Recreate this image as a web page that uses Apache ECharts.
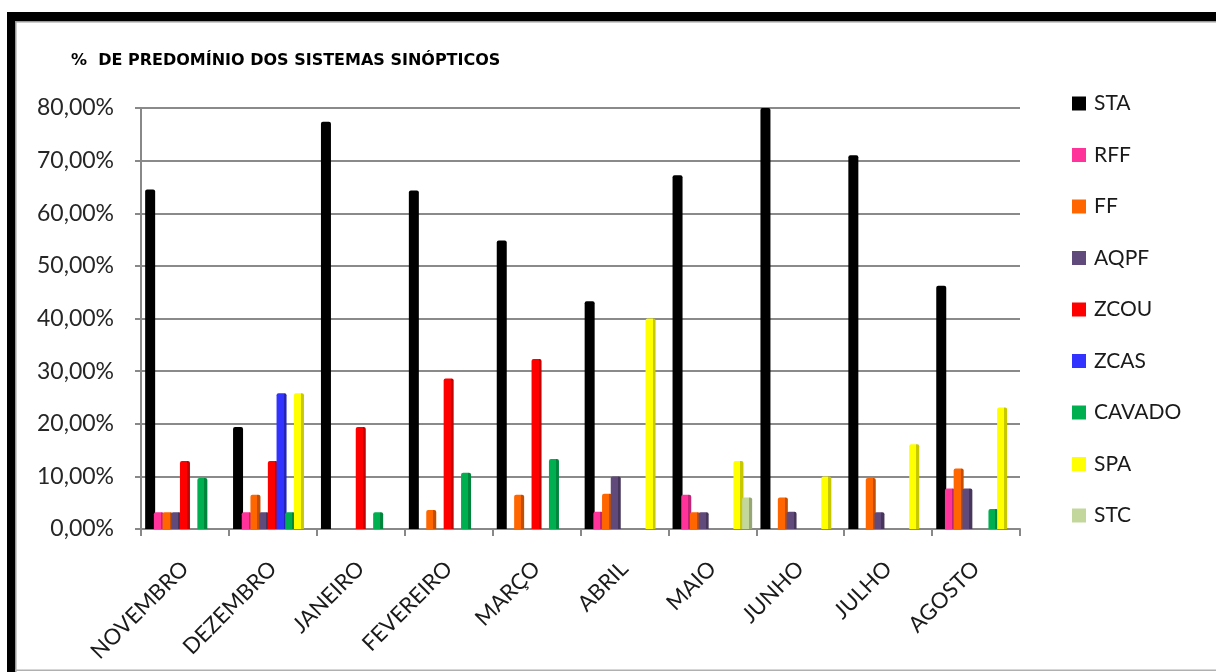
<!DOCTYPE html>
<html>
<head>
<meta charset="utf-8">
<script src="https://cdn.jsdelivr.net/npm/echarts@6/dist/echarts.min.js"></script>
<style>
html,body{margin:0;padding:0;background:#fff;}
#chart{width:1216px;height:672px;}
</style>
</head>
<body>
<div id="chart"></div>
<script>
// Categories (months)
var categories = ['NOVEMBRO','DEZEMBRO','JANEIRO','FEVEREIRO','MARÇO','ABRIL','MAIO','JUNHO','JULHO','AGOSTO'];
// Series values (percent)
var STA    = [64.5, 19.4, 77.4, 64.3, 54.8, 43.3, 67.2, 80.0, 71.0, 46.2];
var RFF    = [3.2, 3.2, 0, 0, 0, 3.3, 6.5, 0, 0, 7.7];
var FF     = [3.2, 6.5, 0, 3.6, 6.5, 6.7, 3.2, 6.0, 9.7, 11.5];
var AQPF   = [3.2, 3.2, 0, 0, 0, 10.0, 3.2, 3.3, 3.2, 7.7];
var ZCOU   = [12.9, 12.9, 19.4, 28.6, 32.3, 0, 0, 0, 0, 0];
var ZCAS   = [0, 25.8, 0, 0, 0, 0, 0, 0, 0, 0];
var CAVADO = [9.7, 3.2, 3.2, 10.7, 13.3, 0, 0, 0, 0, 3.8];
var SPA    = [0, 25.8, 0, 0, 0, 40.0, 12.9, 10.0, 16.1, 23.1];
var STC    = [0, 0, 0, 0, 0, 0, 6.0, 0, 0, 0];
// Y tick labels
var yMin = 0, yMax = 80, yStep = 10;
var titleText = '%  DE PREDOMÍNIO DOS SISTEMAS SINÓPTICOS';

var seriesNames = ['STA','RFF','FF','AQPF','ZCOU','ZCAS','CAVADO','SPA','STC'];
var seriesData = [STA, RFF, FF, AQPF, ZCOU, ZCAS, CAVADO, SPA, STC];
var colors = ['#000000','#FF3399','#FF6600','#604A7B','#FF0000','#3333FF','#00B050','#FFFF00','#C3D69B'];
var darks  = ['#000000','#C2247A','#C24E00','#47365C','#C00000','#2424B8','#00853C','#C8C800','#97A676'];

var FONT = 'Lato';
var chart = echarts.init(document.getElementById('chart'));

var series = seriesNames.map(function(n,i){
  return {
    name: n,
    type: 'bar',
    data: seriesData[i],
    barWidth: 10,
    barGap: '-13%',
    itemStyle: {
      color: new echarts.graphic.LinearGradient(0,0,1,0,[
        {offset:0,color:colors[i]},{offset:0.7,color:colors[i]},
        {offset:0.7,color:darks[i]},{offset:1,color:darks[i]}
      ]),
      borderRadius: [2,2,0,0]
    }
  };
});

var option = {
  backgroundColor: '#ffffff',
  animation: false,
  textStyle: {fontFamily: FONT},
  title: {
    text: titleText,
    left: 66, top: 48,
    textStyle: {fontFamily: 'DejaVu Sans', fontSize: 16, fontWeight: 'bold', color: '#000'}
  },
  legend: {
    orient: 'vertical',
    left: 1067, top: 88,
    itemWidth: 14, itemHeight: 14,
    itemGap: 30.5,
    icon: 'rect',
    textStyle: {fontFamily: FONT, fontSize: 21, color: '#1a1a1a', lineHeight: 20, padding:[0,0,0,3]},
    data: seriesNames.map(function(n,i){ return {name:n, itemStyle:{color:colors[i]}}; })
  },
  grid: {left: 141, right: 196, top: 108, bottom: 143},
  xAxis: {
    type: 'category',
    data: categories,
    axisLine: {show: true, lineStyle: {color: '#888', width: 2}},
    axisTick: {show: true, length: 7, lineStyle: {color: '#888', width: 2}},
    axisLabel: {rotate: 45, fontFamily: FONT, fontSize: 22, color: '#1a1a1a', margin: 36}
  },
  yAxis: {
    type: 'value',
    min: yMin, max: yMax, interval: yStep,
    axisLine: {show: true, lineStyle: {color: '#888', width: 2}},
    axisTick: {show: true, length: 6, lineStyle: {color: '#888', width: 2}},
    splitLine: {show: true, lineStyle: {color: '#8a8a8a', width: 2}},
    axisLabel: {
      fontFamily: FONT, fontSize: 23, color: '#262626', margin: 27,
      formatter: function(v){ return v.toFixed(2).replace('.', ',') + '%'; }
    }
  },
  graphic: [
    {type:'rect', shape:{x:7,y:12,width:1209,height:9}, style:{fill:'#000'}, z:100},
    {type:'rect', shape:{x:7,y:12,width:8,height:660}, style:{fill:'#000'}, z:100},
    {type:'rect', shape:{x:15,y:21,width:1201,height:1.5}, style:{fill:'#9a9a9a'}, z:100},
    {type:'rect', shape:{x:15,y:21,width:1.5,height:651}, style:{fill:'#9a9a9a'}, z:100},
    {type:'rect', shape:{x:15,y:669.5,width:1201,height:1.5}, style:{fill:'#b0b0b0'}, z:100}
  ],
  series: series
};
chart.setOption(option);
</script>
</body>
</html>
